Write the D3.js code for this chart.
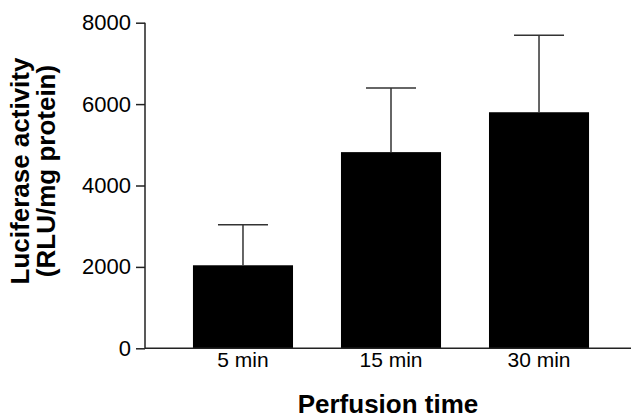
<!DOCTYPE html>
<html><head><meta charset="utf-8">
<script src="https://cdn.jsdelivr.net/npm/d3@7"></script>
<style>body{margin:0;background:#fff}svg{display:block}</style>
</head><body>
<script>
const categories = ["5 min", "15 min", "30 min"];
const means = [2040, 4820, 5800];
const upperErr = [3035, 6395, 7690];
const yTicks = [0, 2000, 4000, 6000, 8000];

const W = 631, H = 418;
const svg = d3.select("body").append("svg").attr("width", W).attr("height", H);
const font = "'Liberation Sans', Arial, sans-serif";

const y = d3.scaleLinear().domain([0, 8000]).range([348.3, 22.7]);
const x = d3.scaleBand().domain(categories).range([145, 637]).paddingInner(0.324).paddingOuter(0.324);

// bars
svg.selectAll("rect.bar").data(categories).join("rect")
  .attr("x", d => x(d)).attr("width", x.bandwidth())
  .attr("y", (d, i) => y(means[i])).attr("height", (d, i) => y(0) - y(means[i]))
  .attr("fill", "#000");

// error bars
const capW = 50;
const eb = svg.append("g").attr("stroke", "#333").attr("stroke-width", 1.5).attr("fill", "none");
categories.forEach((c, i) => {
  const cx = x(c) + x.bandwidth() / 2;
  eb.append("line").attr("x1", cx).attr("x2", cx).attr("y1", y(means[i])).attr("y2", y(upperErr[i]));
  eb.append("line").attr("x1", cx - capW / 2).attr("x2", cx + capW / 2).attr("y1", y(upperErr[i])).attr("y2", y(upperErr[i]));
});

// y axis
const yAxis = d3.axisLeft(y).tickValues(yTicks).tickSize(9).tickPadding(5).tickFormat(d3.format("d"));
const ga = svg.append("g").attr("transform", "translate(145,0)").call(yAxis);
ga.select(".domain").attr("stroke", "#222").attr("stroke-width", 1.5).attr("d", `M0,${y(8000)}V${y(0)}`);
ga.selectAll(".tick line").attr("stroke", "#222").attr("stroke-width", 1.5);
ga.selectAll(".tick text").attr("font-family", font).attr("font-size", 22).attr("fill", "#000");

// x axis line
svg.append("line").attr("x1", 145).attr("x2", W).attr("y1", y(0)).attr("y2", y(0))
  .attr("stroke", "#222").attr("stroke-width", 1.5);

// x tick labels
const xAxis = d3.axisBottom(x).tickSize(0).tickPadding(0);
const gx = svg.append("g").attr("transform", `translate(0,${y(0)})`).call(xAxis);
gx.select(".domain").remove();
gx.selectAll(".tick text").attr("font-family", font).attr("font-size", 21).attr("fill", "#000")
  .attr("dy", null).attr("y", 19);

// axis titles
svg.append("text").attr("x", 388).attr("y", 413).attr("text-anchor", "middle")
  .attr("font-family", font).attr("font-weight", "bold").attr("font-size", 26).text("Perfusion time");

const yl = svg.append("text").attr("transform", "translate(29,171) rotate(-90)")
  .attr("text-anchor", "middle").attr("font-family", font).attr("font-weight", "bold").attr("font-size", 26);
yl.append("tspan").attr("x", 0).attr("y", 0).text("Luciferase activity");
yl.append("tspan").attr("x", 0).attr("y", 26).text("(RLU/mg protein)");
</script>
</body></html>
